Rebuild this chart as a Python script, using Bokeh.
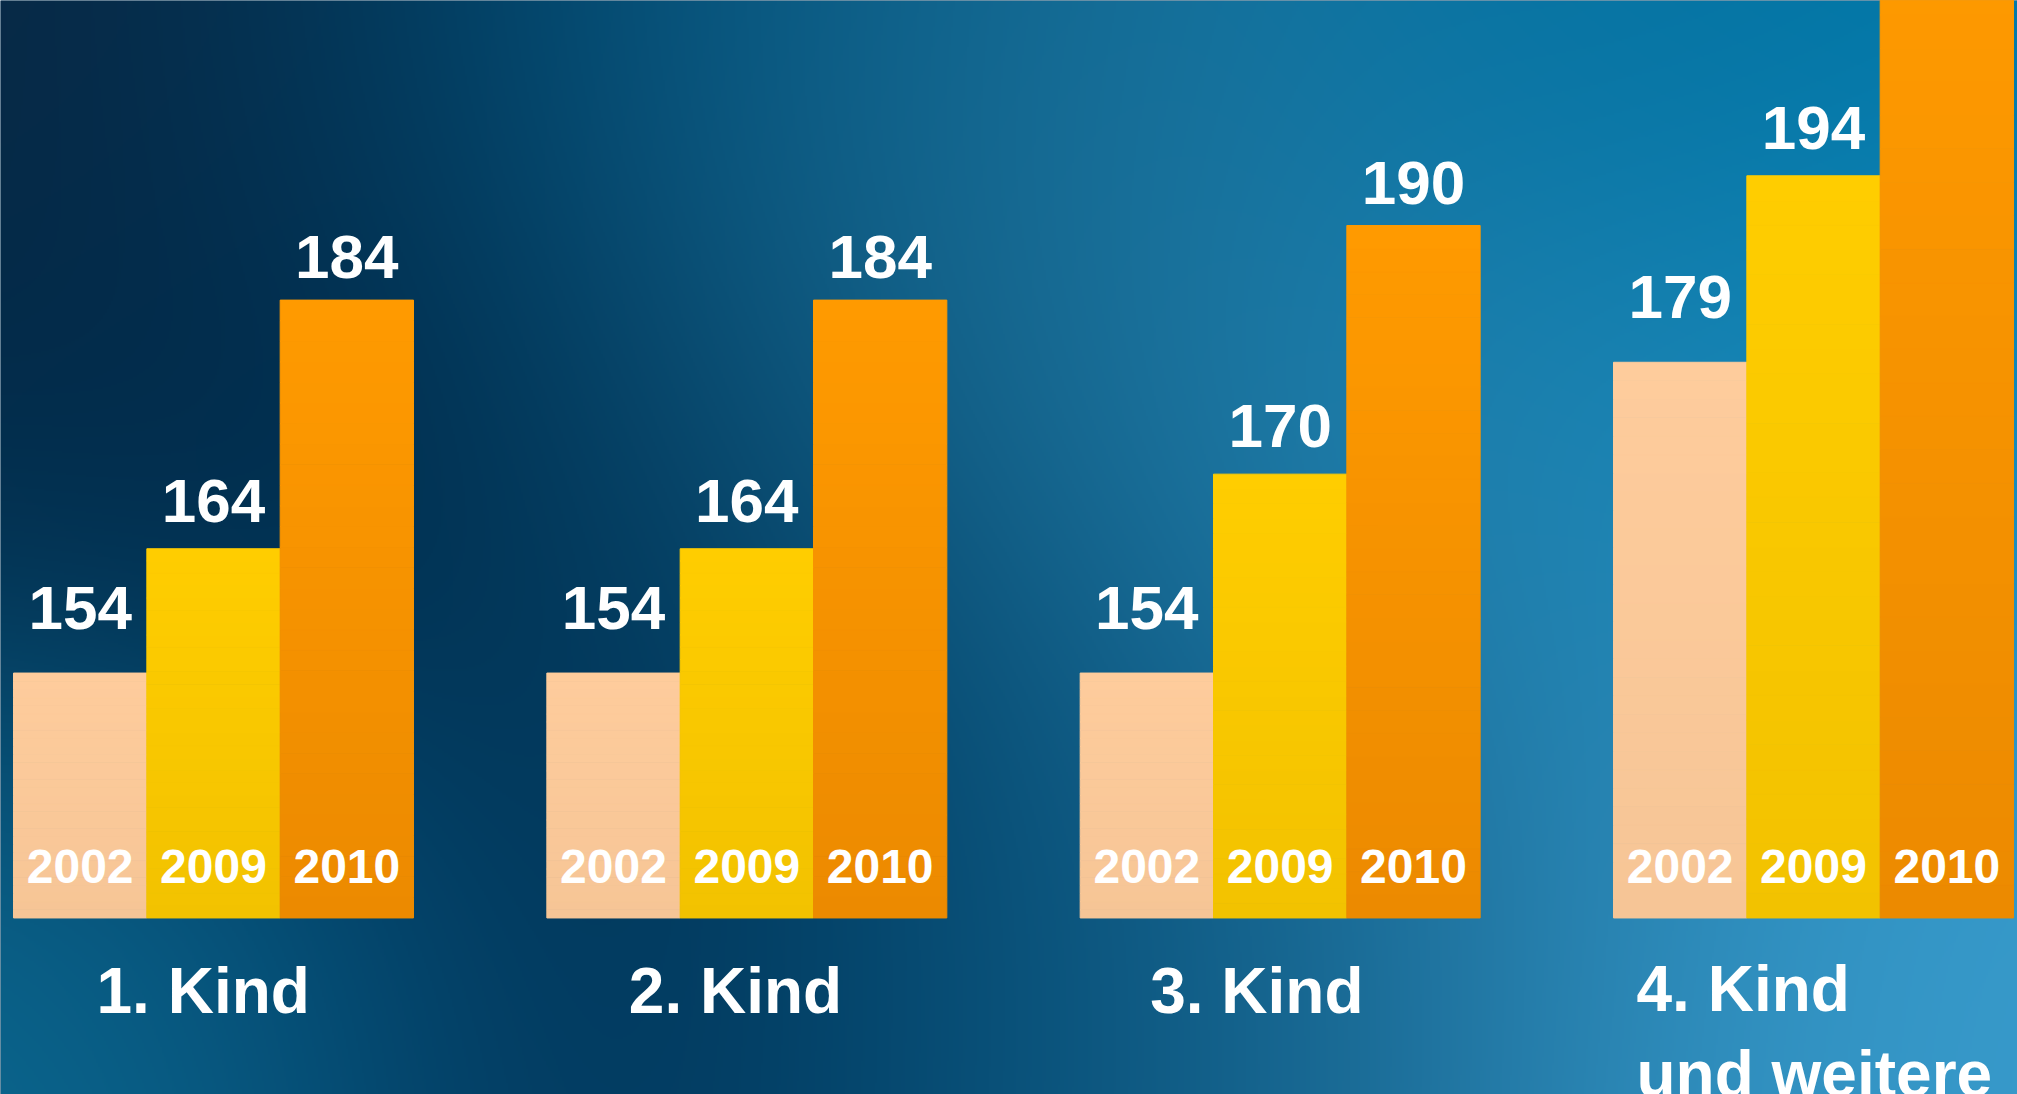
import numpy as np
from bokeh.plotting import figure
from bokeh.models import Range1d, ColumnDataSource
from bokeh.core.properties import value
from bokeh.embed import file_html
from bokeh.resources import INLINE

# ---------------- data ----------------
categories = ["1. Kind", "2. Kind", "3. Kind", "4. Kind\nund weitere"]
years = ["2002", "2009", "2010"]
vals_2002 = [154, 154, 154, 179]
vals_2009 = [164, 164, 170, 194]
vals_2010 = [184, 184, 190, 215]
series = [vals_2002, vals_2009, vals_2010]

# ---------------- layout / style ----------------
W, H = 2017, 1094
BASE = 134.3
Y0, Y1 = 120.1, 208.1
X0, X1 = -0.0975, 15.03
FONT = "Liberation Sans"

top_cols = [(254, 204, 156), (255, 205, 0), (255, 154, 0)]
bot_cols = [(246, 197, 150), (242, 194, 0), (236, 138, 0)]
label_gap = [65, 48, 43]
year_off = -51
cat_xoff = [83, 82, 70, 23]
CAT_SIZE = 64
VAL_SIZE = 62

p = figure(width=W, height=H, x_range=Range1d(X0, X1), y_range=Range1d(Y0, Y1),
           output_backend="svg", toolbar_location=None, min_border=0,
           border_fill_color="#0b3a5c", background_fill_color="#0b3a5c")
p.axis.visible = False
p.grid.visible = False
p.outline_line_color = None

# ---------------- background gradient ----------------
ctrl = [
    (0, 0, "#0a2642"), (0, 500, "#022a48"), (0, 900, "#0a5e86"), (0, 1094, "#0e7299"),
    (300, 0, "#04304f"), (300, 450, "#002848"), (300, 1000, "#03507a"),
    (600, 0, "#00507a"), (600, 450, "#003658"), (650, 850, "#002a4a"), (600, 1094, "#04385e"),
    (900, 0, "#0b5f88"), (900, 300, "#1a6990"), (900, 650, "#064a70"), (950, 1000, "#004870"),
    (1060, 960, "#024a72"),
    (1150, 100, "#1e78a2"), (1200, 500, "#207ca8"), (1220, 880, "#17648e"), (1250, 1094, "#1a6a94"),
    (1500, 0, "#0873a2"), (1500, 500, "#2484b2"), (1500, 900, "#2c86b4"),
    (1700, 0, "#00709f"), (1700, 400, "#1a86b6"), (1700, 1094, "#3090c0"),
    (2017, 0, "#0078a8"), (2017, 400, "#0a8cc0"), (2017, 800, "#3a9aca"), (2017, 1094, "#3a9ecf"),
]
nx, ny = 1009, 547
xs = (np.arange(nx) + 0.5) * W / nx
ys = (np.arange(ny) + 0.5) * H / ny
XX, YY = np.meshgrid(xs, ys)
acc = np.zeros((ny, nx, 3))
wsum = np.zeros((ny, nx))
sig = 230.0
for cx, cy, col in ctrl:
    rgb = np.array([int(col[1:3], 16), int(col[3:5], 16), int(col[5:7], 16)], float)
    w = np.exp(-((XX - cx) ** 2 + (YY - cy) ** 2) / (2 * sig * sig))
    acc += w[..., None] * rgb
    wsum += w
rgbimg = (acc / wsum[..., None]).clip(0, 255).astype(np.uint32)
rgbimg = rgbimg[::-1]  # row 0 at bottom
img = (rgbimg[..., 0] | (rgbimg[..., 1] << 8) | (rgbimg[..., 2] << 16) | (255 << 24)).astype(np.uint32)
p.image_rgba(image=[img], x=X0, y=Y0, dw=X1 - X0, dh=Y1 - Y0)

# ---------------- bars (vertical gradient strips) ----------------
N = 30
bx, bb, bt, bc = [], [], [], []
for s, vals in enumerate(series):
    for g, v in enumerate(vals):
        x = 4 * g + s + 0.5
        for k in range(N):
            t = 1 - (k + 0.5) / N
            c = tuple(int(round(top_cols[s][i] * (1 - t) + bot_cols[s][i] * t)) for i in range(3))
            bx.append(x)
            bb.append(BASE + (v - BASE) * k / N)
            bt.append(BASE + (v - BASE) * (k + 1) / N)
            bc.append("#%02x%02x%02x" % c)
p.vbar(x=bx, bottom=bb, top=bt, width=1.0, fill_color=bc, line_color=bc, line_width=1)

# ---------------- value labels (only where the bar top lies inside the frame) ----------------
for s, vals in enumerate(series):
    shown = [(g, v) for g, v in enumerate(vals) if v < Y1]
    src = ColumnDataSource(dict(x=[4 * g + s + 0.5 for g, v in shown], y=[v for g, v in shown],
                                t=[str(v) for g, v in shown]))
    p.text(x="x", y="y", text="t", source=src, text_align="center", text_baseline="alphabetic",
           y_offset=-label_gap[s], text_font=value(FONT), text_font_style="bold",
           text_font_size=f"{VAL_SIZE}px", text_color="white")
    ysrc = ColumnDataSource(dict(x=[4 * g + s + 0.5 for g in range(4)], y=[BASE] * 4,
                                 t=[years[s]] * 4))
    p.text(x="x", y="y", text="t", source=ysrc, text_align="center", text_baseline="alphabetic",
           y_offset=year_off, text_font=value(FONT), text_font_style="bold",
           text_font_size="48px", text_color="white")

# ---------------- category labels ----------------
cat_yoff = [73 + (0.6 * CAT_SIZE + 2) * (c.count("\n")) for c in categories]
csrc = ColumnDataSource(dict(x=[4 * g for g in range(4)], y=[BASE] * 4, t=categories,
                             xo=cat_xoff, yo=cat_yoff))
p.text(x="x", y="y", text="t", source=csrc, x_offset="xo", y_offset="yo", text_align="left",
       text_baseline="alphabetic", text_font=value(FONT), text_font_style="bold",
       text_font_size=f"{CAT_SIZE}px", text_color="white", text_line_height=1.18)

open("out.html", "w").write(file_html(p, INLINE))
